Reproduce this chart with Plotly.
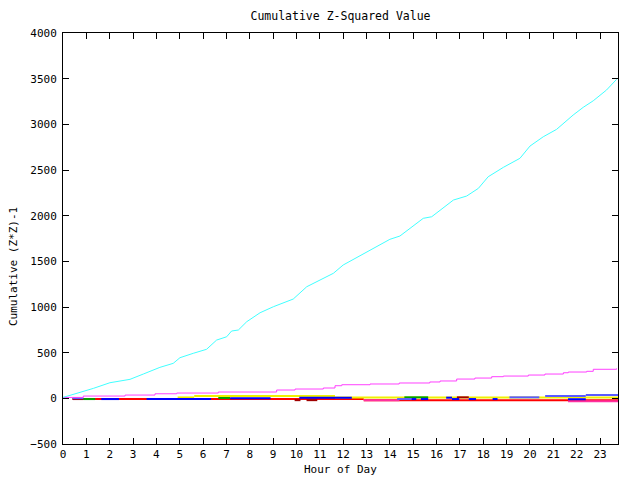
import plotly.graph_objects as go

# ---- data ----
hours_ticks = list(range(0, 24))
x_max = 23.77

cyan_x = [0.0, 0.73, 1.30, 2.01, 2.87, 3.44, 4.15, 4.72, 5.01, 5.58, 6.15, 6.58, 7.01, 7.22, 7.51,
          7.87, 8.44, 9.01, 9.86, 10.44, 11.01, 11.58, 12.00, 12.72, 13.22, 14.00, 14.43, 15.43,
          15.79, 16.72, 17.29, 17.79, 18.21, 18.86, 19.57, 20.00, 20.57, 21.14, 21.85, 22.28,
          22.71, 23.28, 23.71]
cyan_y = [10, 61, 109, 171, 208, 266, 339, 383, 445, 493, 537, 638, 674, 737, 748,
          839, 937, 1003, 1087, 1222, 1295, 1369, 1460, 1558, 1631, 1741, 1777, 1971,
          1988, 2171, 2215, 2299, 2426, 2529, 2628, 2762, 2864, 2945, 3102, 3186,
          3258, 3376, 3493]

magenta_x = [0.0, 0.87, 2.66, 3.94, 4.87, 6.65, 9.15, 9.94, 11.15, 11.65, 11.94, 13.15, 14.40, 15.71,
             16.15, 16.86, 17.64, 18.36, 18.86, 19.93, 20.64, 21.43, 21.64, 22.43, 22.71, 23.71]
magenta_y = [10, 25, 36, 50, 58, 69, 91, 102, 113, 138, 149, 157, 168, 179,
             190, 211, 222, 237, 244, 255, 266, 280, 288, 296, 318, 328]

# near-zero series as segments: start hour, end hour, value
red_start = [0.41, 12.88]
red_end = [12.88, 23.77]
red_val = [-8, -20]

pink_start = [12.88, 21.63]
pink_end = [14.41, 23.77]
pink_val = [-20, -32]

yellow_start = [4.91, 5.62, 11.65]
yellow_end = [5.62, 11.65, 23.77]
yellow_val = [10, 25, 9]

darkred_start = [0.41, 9.92, 10.43, 16.87]
darkred_end = [0.87, 10.17, 10.89, 17.38]
darkred_val = [-8, -20, -20, 11]

green_start = [0.87, 6.65, 14.62]
green_end = [1.38, 7.16, 15.64]
green_val = [-8, 4, 11]

slate_start = [0.41, 14.31, 19.12, 20.65, 22.39]
slate_end = [0.87, 14.93, 20.40, 22.39, 23.77]
slate_val = [2, -8, 11, 25, 36]

blue_start = [1.64, 3.58, 7.16, 10.12, 14.93, 15.33, 16.41, 16.66, 17.38, 18.40, 21.63]
blue_end = [2.40, 6.34, 8.89, 12.37, 15.13, 15.64, 16.66, 16.97, 17.69, 18.61, 22.39]
blue_val = [-8, -8, 2, 7, -8, -8, 7, -8, -8, -8, -10]


def segs(starts, ends, vals):
    xs, ys = [], []
    for a, b, v in zip(starts, ends, vals):
        xs += [a, b, None]
        ys += [v, v, None]
    return xs, ys


fig = go.Figure()

near_zero = [
    ("red", "#ff0000", red_start, red_end, red_val),
    ("pink", "#ff30a0", pink_start, pink_end, pink_val),
    ("yellow", "#f0f000", yellow_start, yellow_end, yellow_val),
    ("darkred", "#a00000", darkred_start, darkred_end, darkred_val),
    ("green", "#00a000", green_start, green_end, green_val),
    ("slate", "#5a5aff", slate_start, slate_end, slate_val),
    ("blue", "#0000ff", blue_start, blue_end, blue_val),
]
for name, col, s, e, v in near_zero:
    xs, ys = segs(s, e, v)
    fig.add_trace(go.Scatter(x=xs, y=ys, mode="lines", name=name,
                             line=dict(color=col, width=2), connectgaps=False))

fig.add_trace(go.Scatter(x=magenta_x, y=magenta_y, mode="lines", name="magenta",
                         line=dict(color="#ff40ff", width=1, shape="hv")))
fig.add_trace(go.Scatter(x=cyan_x, y=cyan_y, mode="lines", name="cyan",
                         line=dict(color="#40ffff", width=1)))

font_family = "DejaVu Sans Mono"
fig.update_layout(
    width=640, height=480,
    margin=dict(l=63, r=22, t=33, b=36),
    paper_bgcolor="white", plot_bgcolor="white",
    showlegend=False,
    font=dict(family=font_family, size=11, color="black"),
    title=dict(text="Cumulative Z-Squared Value", x=340.5 / 640, xanchor="center",
               y=1 - 16 / 480, yanchor="middle", font=dict(size=11.5)),
)
fig.update_xaxes(range=[0, x_max], tickmode="array", tickvals=hours_ticks,
                 ticktext=[str(h) for h in hours_ticks],
                 ticks="inside", ticklen=6, tickcolor="black", mirror="ticks",
                 showline=True, linecolor="black", linewidth=1, showgrid=False,
                 zeroline=False)
fig.update_yaxes(range=[-500, 4000], dtick=500, tick0=0,
                 ticks="inside", ticklen=6, tickcolor="black", mirror="ticks",
                 showline=True, linecolor="black", linewidth=1, showgrid=False,
                 zeroline=False, ticklabelstandoff=3)

fig.add_annotation(text="Hour of Day", xref="paper", yref="paper",
                   x=0.5, y=(444 - 470) / 411, xanchor="center", yanchor="middle",
                   showarrow=False, font=dict(size=11))
fig.add_annotation(text="Cumulative (Z*Z)-1", xref="paper", yref="paper",
                   x=(13 - 63) / 555, y=(444 - 267) / 411, xanchor="center", yanchor="middle",
                   textangle=-90, showarrow=False, font=dict(size=11))

fig.write_html("out.html")
